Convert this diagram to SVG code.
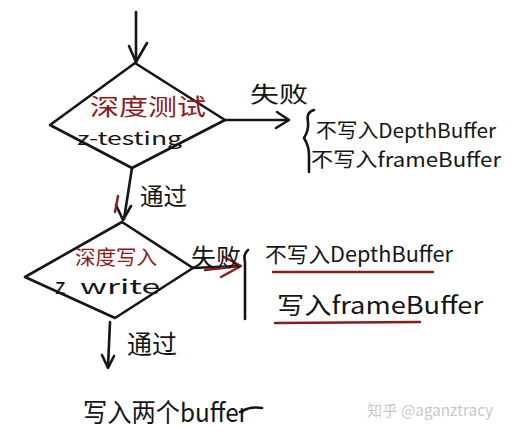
<svg xmlns="http://www.w3.org/2000/svg" width="524" height="434" viewBox="0 0 524 434">
<defs>
<style>
.ink{fill:none;stroke:#151515;stroke-width:2.6;stroke-linecap:round;stroke-linejoin:round}
.red{fill:none;stroke:#8a1c1c;stroke-width:2.4;stroke-linecap:round;stroke-linejoin:round}
.t{font-family:"Noto Sans CJK SC","Liberation Sans",sans-serif;fill:#151515}
.tr{font-family:"Noto Sans CJK SC","Liberation Sans",sans-serif;fill:#8a1c1c}
.wm{font-family:"Noto Sans CJK SC","Liberation Sans",sans-serif;fill:#c8c8c8;font-size:15px}
</style>
</defs>
<rect width="524" height="434" fill="#ffffff"/>
<g id="connectors">
  <path class="ink" d="M136 12 L136 62"/>
  <path class="ink" d="M129 46 L136 62 L147 43"/>
  <path class="ink" d="M225 120 L288 120"/>
  <path class="ink" d="M277 112 L289 120 L276 128"/>
  <path class="ink" d="M132 168 L124 219"/>
  <path class="ink" d="M116 205 L123 220 L131 206"/>
  <path class="red" d="M118 196 L115 212"/>
  <path class="ink" d="M193 268 L238 266"/>
  <path class="red" d="M205 270 L240 266"/>
  <path class="red" d="M224 257 L241 266 L221 277"/>
  <path class="ink" d="M110 322 L108 367"/>
  <path class="ink" d="M102 355 L108 368 L114 356"/>
  <path class="ink" d="M314 110 Q306 112 308 122 Q309 130 304 138 Q309 146 309 155 L309 172"/>
  <path class="ink" d="M248 250 Q243 254 245 262 L245 319"/>
  <path class="red" d="M273 272 L433 272"/>
  <path class="red" d="M275 323 L420 322"/>
</g>
<g id="d1">
  <polygon class="ink" points="135,63 225,120 132,168 50,125"/>
  <text class="tr" x="90" y="115" font-size="23" textLength="116" lengthAdjust="spacingAndGlyphs">深度测试</text>
  <text class="t" x="77" y="145" font-size="18" textLength="105" lengthAdjust="spacingAndGlyphs">z-testing</text>
</g>
<g id="fail1">
  <text class="t" x="250" y="102" font-size="22" textLength="58" lengthAdjust="spacingAndGlyphs">失败</text>
  <text class="t" x="316" y="138" font-size="20" textLength="180" lengthAdjust="spacingAndGlyphs">不写入DepthBuffer</text>
  <text class="t" x="311" y="167" font-size="20" textLength="190" lengthAdjust="spacingAndGlyphs">不写入frameBuffer</text>
</g>
<g id="pass1">
  <text class="t" x="140" y="205" font-size="24" textLength="47" lengthAdjust="spacingAndGlyphs">通过</text>
</g>
<g id="d2">
  <polygon class="ink" points="122,222 193,268 115,318 25,277"/>
  <text class="tr" x="75" y="265" font-size="20" textLength="82" lengthAdjust="spacingAndGlyphs">深度写入</text>
  <text class="t" x="55" y="294" font-size="22">z</text>
  <text class="t" x="80" y="294" font-size="20" textLength="80" lengthAdjust="spacingAndGlyphs">write</text>
</g>
<g id="fail2">
  <text class="t" x="191" y="266" font-size="24" textLength="50" lengthAdjust="spacingAndGlyphs">失败</text>
  <text class="t" x="265" y="262" font-size="21" textLength="188" lengthAdjust="spacingAndGlyphs">不写入DepthBuffer</text>
  <text class="t" x="277" y="314" font-size="24" textLength="206" lengthAdjust="spacingAndGlyphs">写入frameBuffer</text>
</g>
<g id="pass2">
  <text class="t" x="127" y="354" font-size="26" textLength="50" lengthAdjust="spacingAndGlyphs">通过</text>
</g>
<g id="result">
  <text class="t" x="83" y="422" font-size="26" textLength="165" lengthAdjust="spacingAndGlyphs">写入两个buffer</text>
  <path class="ink" d="M240 412 Q250 406 262 408"/>
</g>
<text class="wm" x="367" y="416" textLength="126" lengthAdjust="spacingAndGlyphs">知乎 @aganztracy</text>
</svg>
